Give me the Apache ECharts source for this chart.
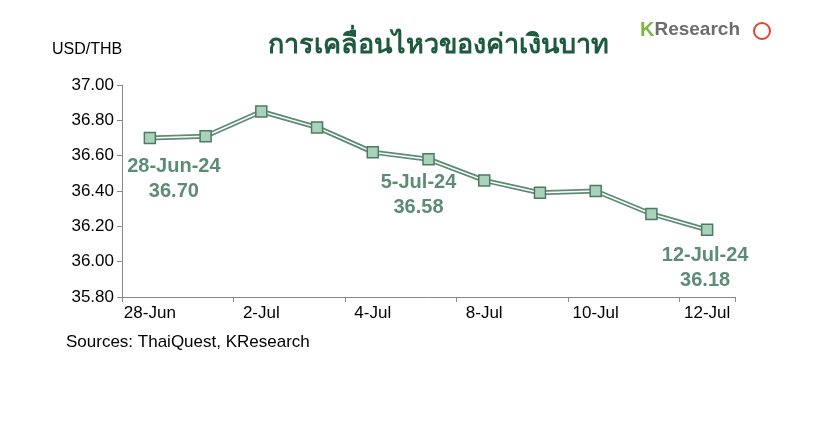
<!DOCTYPE html>
<html><head><meta charset="utf-8">
<script src="https://cdn.jsdelivr.net/npm/echarts@6/dist/echarts.min.js"></script>
<style>html,body{margin:0;padding:0;background:#fff}#c{width:825px;height:430px}</style>
</head><body><div id="c"></div>
<script>
const categories = ['28-Jun','1-Jul','2-Jul','3-Jul','4-Jul','5-Jul','8-Jul','9-Jul','10-Jul','11-Jul','12-Jul'];
const values = [36.70,36.71,36.85,36.76,36.62,36.58,36.46,36.39,36.40,36.27,36.18];
const annotations = {0:'28-Jun-24\n36.70', 5:'5-Jul-24\n36.58', 10:'12-Jul-24\n36.18'};
const annOffsets = {0:[24,5], 5:[-10,0], 10:[-2,2]};
const green = '#5d8c74';
const chart = echarts.init(document.getElementById('c'));
const data = values.map((v,i)=> annotations[i] ? {value:v, label:{show:true, position:'bottom', offset:annOffsets[i], formatter:annotations[i], color:green, fontSize:20, fontWeight:'bold', fontFamily:'Liberation Sans', lineHeight:25}} : v);
chart.setOption({
  animation:false,
  title:{text:'การเคลื่อนไหวของค่าเงินบาท', left:433, textAlign:'center', top:27,
    textStyle:{color:'#1d5a3e', fontSize:27, fontWeight:'bold', fontFamily:'Noto Sans'}},
  graphic:[
    {type:'text', left:52, top:42, style:{text:'USD/THB', fontSize:16, fontFamily:'Liberation Sans', fill:'#000'}},
    {type:'text', left:66, top:334, style:{text:'Sources: ThaiQuest, KResearch', fontSize:17, fontFamily:'Liberation Sans', fill:'#000'}},
    {type:'text', left:640, top:20, style:{rich:{k:{fill:'#7ab648',fontSize:20,fontWeight:'bold',fontFamily:'Liberation Sans'},r:{fill:'#6d6d6d',fontSize:19,fontWeight:'bold',fontFamily:'Liberation Sans'}}, text:'{k|K}{r|Research}'}},
    {type:'circle', shape:{cx:762, cy:31, r:8}, style:{fill:'none', stroke:'#e0452d', lineWidth:2}}
  ],
  grid:{left:122, right:90, top:85, bottom:133},
  xAxis:{type:'category', data:categories, boundaryGap:true,
    axisLine:{lineStyle:{color:'#888'}}, axisTick:{show:true, lineStyle:{color:'#888'}},
    axisLabel:{interval:1, color:'#000', fontSize:17, fontFamily:'Liberation Sans', margin:8}},
  yAxis:{type:'value', min:35.8, max:37, interval:0.2, splitLine:{show:false},
    axisLine:{show:true, lineStyle:{color:'#888'}}, axisTick:{show:true, lineStyle:{color:'#888'}},
    axisLabel:{formatter:v=>v.toFixed(2), color:'#000', fontSize:17, fontFamily:'Liberation Sans'}},
  series:[
    {type:'line', data:values, symbol:'none', z:2, silent:true,
      lineStyle:{color:green, width:5}},
    {type:'line', data:values, symbol:'none', z:3, silent:true,
      lineStyle:{color:'#fff', width:1.5}},
    {type:'line', data:data, symbol:'rect', symbolSize:11, z:4,
      lineStyle:{width:0, opacity:0},
      itemStyle:{color:'#a9d2bb', borderColor:'#4d7a64', borderWidth:1.5}}
  ]
});
</script></body></html>
